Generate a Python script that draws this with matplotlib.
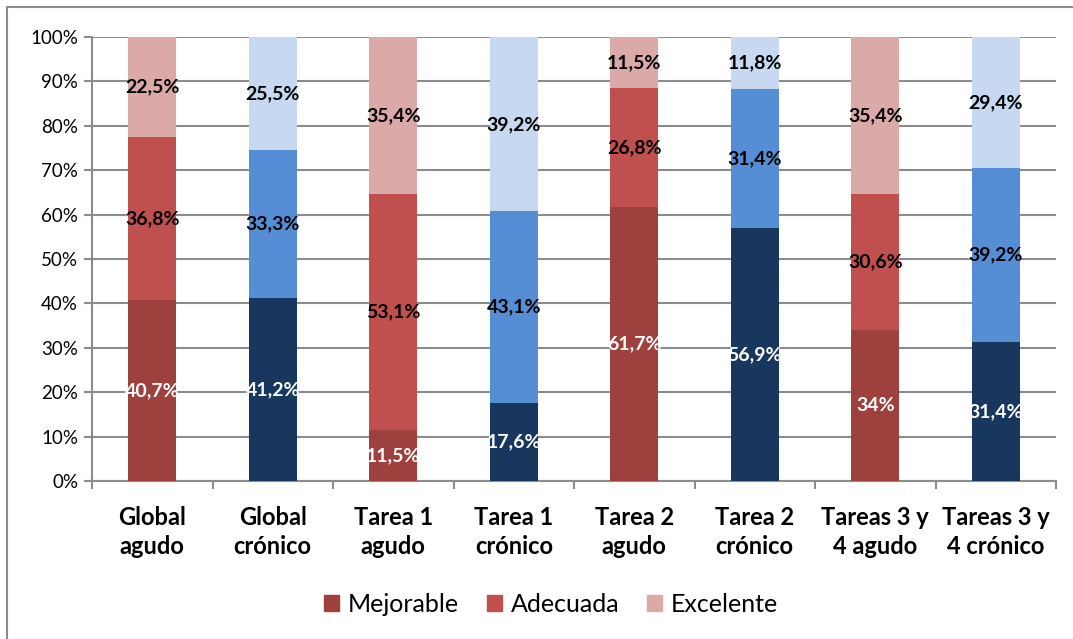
import matplotlib
matplotlib.use("Agg")
import matplotlib.pyplot as plt
from matplotlib.patches import Rectangle, Patch
import numpy as np

categories = ["Global\nagudo", "Global\ncrónico", "Tarea 1\nagudo", "Tarea 1\ncrónico",
              "Tarea 2\nagudo", "Tarea 2\ncrónico", "Tareas 3 y\n4 agudo", "Tareas 3 y\n4 crónico"]
mejorable = [40.7, 41.2, 11.5, 17.6, 61.7, 56.9, 34.0, 31.4]
adecuada = [36.8, 33.3, 53.1, 43.1, 26.8, 31.4, 30.6, 39.2]
excelente = [22.5, 25.5, 35.4, 39.2, 11.5, 11.8, 35.4, 29.4]
labels_mej = ["40,7%", "41,2%", "11,5%", "17,6%", "61,7%", "56,9%", "34%", "31,4%"]
labels_ade = ["36,8%", "33,3%", "53,1%", "43,1%", "26,8%", "31,4%", "30,6%", "39,2%"]
labels_exc = ["22,5%", "25,5%", "35,4%", "39,2%", "11,5%", "11,8%", "35,4%", "29,4%"]
series_names = ["Mejorable", "Adecuada", "Excelente"]

red_cols = ["#9E403D", "#C0504D", "#DAA9A8"]
blue_cols = ["#17375E", "#558ED5", "#C6D9F1"]

plt.rcParams['font.family'] = ['Lato', 'DejaVu Sans']

fig = plt.figure(figsize=(10.73, 6.39), dpi=100)
ax = fig.add_axes([92/1073, 1-481/639, (1056-92)/1073, (481-37)/639])

# outer frame (top-left visible)
fig.patches.append(Rectangle((7/1073, -0.1), 1.2, 1 - 7/639 + 0.1, transform=fig.transFigure,
                             fill=False, edgecolor="#8C8C8C", linewidth=1.5))

x = np.arange(len(categories))
width = 0.4
vals = [mejorable, adecuada, excelente]
labs = [labels_mej, labels_ade, labels_exc]
txtcol = ["white", "black", "black"]
bottom = np.zeros(len(categories))
for s in range(3):
    cols = [red_cols[s] if i % 2 == 0 else blue_cols[s] for i in range(len(categories))]
    ax.bar(x, vals[s], width, bottom=bottom, color=cols, zorder=3)
    for i in range(len(categories)):
        ax.text(x[i], bottom[i] + vals[s][i] / 2, labs[s][i], ha="center", va="center",
                fontsize=14, fontweight="bold", color=txtcol[s], zorder=4)
    bottom += np.array(vals[s])

ax.set_xlim(-0.5, len(categories) - 0.5)
ax.set_ylim(0, 100)
ax.set_yticks(np.arange(0, 101, 10))
ax.set_yticklabels([f"{v}%" for v in range(0, 101, 10)], fontsize=13.5)
ax.yaxis.grid(True, color="#8C8C8C", linewidth=1.5, zorder=0)
ax.set_xticks(x)
ax.set_xticklabels(categories, fontsize=17, fontweight="bold", linespacing=1.3)
ax.tick_params(axis="x", length=0, pad=18)
ax.set_xticks(np.arange(-0.5, len(categories), 1), minor=True)
ax.tick_params(axis="x", which="minor", length=6, color="#8C8C8C", width=1.5)
ax.tick_params(axis="y", length=6, color="#8C8C8C", width=1.5, pad=4)
for sp in ["top", "right"]:
    ax.spines[sp].set_visible(False)
for sp in ["left", "bottom"]:
    ax.spines[sp].set_color("#8C8C8C")
    ax.spines[sp].set_linewidth(1.5)

handles = [Patch(color=red_cols[s], label=series_names[s]) for s in range(3)]
fig.legend(handles=handles, loc="center", bbox_to_anchor=(551/1073, 1-604/639), ncol=3,
           frameon=False, fontsize=18, handlelength=0.6, handleheight=0.6,
           handletextpad=0.35, columnspacing=1.1)

fig.savefig("out.png", dpi=100)
